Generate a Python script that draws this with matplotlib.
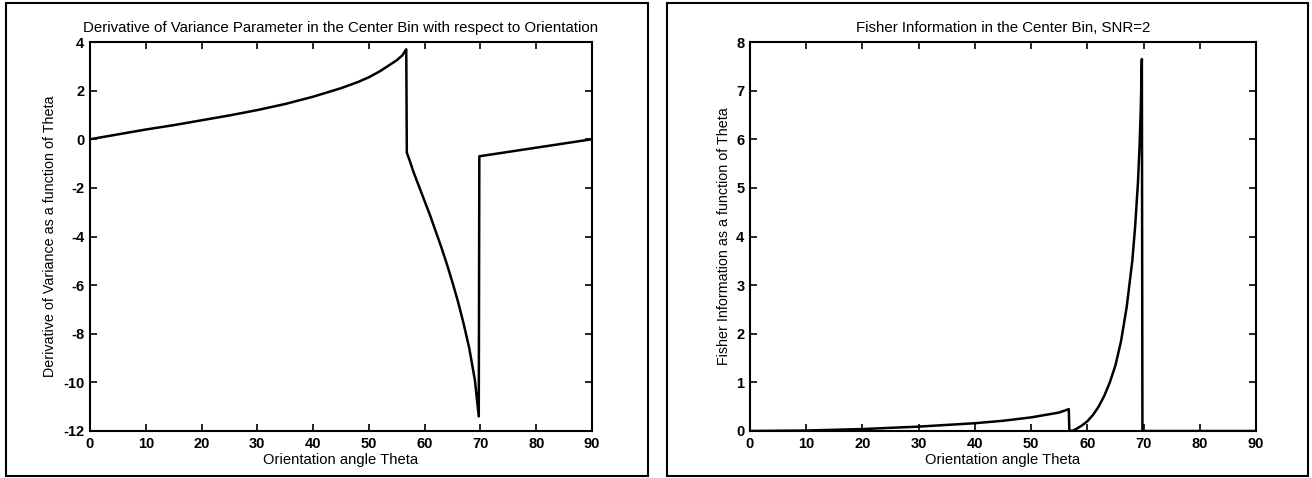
import matplotlib
matplotlib.use("Agg")
import matplotlib.pyplot as plt
from matplotlib.patches import Rectangle

plt.rcParams['font.family'] = ['Liberation Sans', 'DejaVu Sans']
plt.rcParams['axes.unicode_minus'] = False

# Derivative of the variance parameter, center bin
deriv_theta = [0, 5, 10, 15, 20, 25, 30, 35, 40, 45, 48, 50, 52, 54, 55, 56, 56.7,
               56.8, 57.5, 58, 59, 60, 61, 62, 63, 64, 65, 66, 67, 68, 69, 69.7,
               69.8, 90]
deriv_vals = [0, 0.2, 0.4, 0.58, 0.78, 0.98, 1.2, 1.45, 1.75, 2.1, 2.35, 2.55, 2.8, 3.1, 3.25, 3.45, 3.7,
              -0.55, -1.0, -1.35, -1.95, -2.55, -3.15, -3.8, -4.45, -5.15, -5.9, -6.7, -7.6, -8.6, -9.9, -11.4,
              -0.7, 0]

# Fisher information, SNR=2
fisher_theta = [0, 10, 20, 30, 40, 45, 50, 55, 56.7,
                56.8, 57.5, 58, 59, 60, 61, 62, 63, 64, 65, 66, 67, 68, 68.5, 69, 69.3, 69.5, 69.7,
                69.8, 90]
fisher_vals = [0, 0.01, 0.04, 0.09, 0.16, 0.21, 0.28, 0.38, 0.45,
               0, 0.01, 0.04, 0.11, 0.2, 0.33, 0.5, 0.72, 1.0, 1.35, 1.85, 2.55, 3.5, 4.2, 5.1, 5.9, 6.6, 7.65,
               0, 0]

xticks = list(range(0, 91, 10))
deriv_yticks = list(range(-12, 5, 2))
fisher_yticks = list(range(0, 9))

W, H = 1312, 478
fig = plt.figure(figsize=(W / 100, H / 100), dpi=100)

# outer boxes round each panel
fig.patches.append(Rectangle((6 / W, 2 / H), 642 / W, 473 / H, transform=fig.transFigure,
                             fill=False, edgecolor='black', linewidth=1.5))
fig.patches.append(Rectangle((667 / W, 2 / H), 641 / W, 473 / H, transform=fig.transFigure,
                             fill=False, edgecolor='black', linewidth=1.5))

ax1 = fig.add_axes([90 / W, 1 - 431 / H, 502 / W, 389 / H])
ax2 = fig.add_axes([750 / W, 1 - 431 / H, 506 / W, 389 / H])


def style_axes(ax, yticks):
    ax.set_xlim(0, 90)
    ax.set_ylim(yticks[0], yticks[-1])
    ax.set_xticks(xticks)
    ax.set_yticks(yticks)
    ax.tick_params(direction='in', top=True, right=True, length=5, width=1.2, pad=4)
    for lbl in ax.get_xticklabels() + ax.get_yticklabels():
        lbl.set_fontweight('bold')
        lbl.set_fontsize(10.5)
    for s in ax.spines.values():
        s.set_linewidth(1.5)
    ax.set_xlabel("Orientation angle Theta", fontsize=10.6, labelpad=2)


ax1.plot(deriv_theta, deriv_vals, color='black', linewidth=1.8)
style_axes(ax1, deriv_yticks)
ax1.set_title("Derivative of Variance Parameter in the Center Bin with respect to Orientation",
              fontsize=10.8, pad=7)
ax1.set_ylabel("Derivative of Variance as a function of Theta", fontsize=10.3)
ax1.yaxis.set_label_coords(-0.065, 0.5)

ax2.plot(fisher_theta, fisher_vals, color='black', linewidth=1.8)
style_axes(ax2, fisher_yticks)
ax2.set_title("Fisher Information in the Center Bin, SNR=2", fontsize=10.8, pad=7)
ax2.set_ylabel("Fisher Information as a function of Theta", fontsize=10.3)
ax2.yaxis.set_label_coords(-0.038, 0.5)

fig.savefig("out.png", dpi=100)
